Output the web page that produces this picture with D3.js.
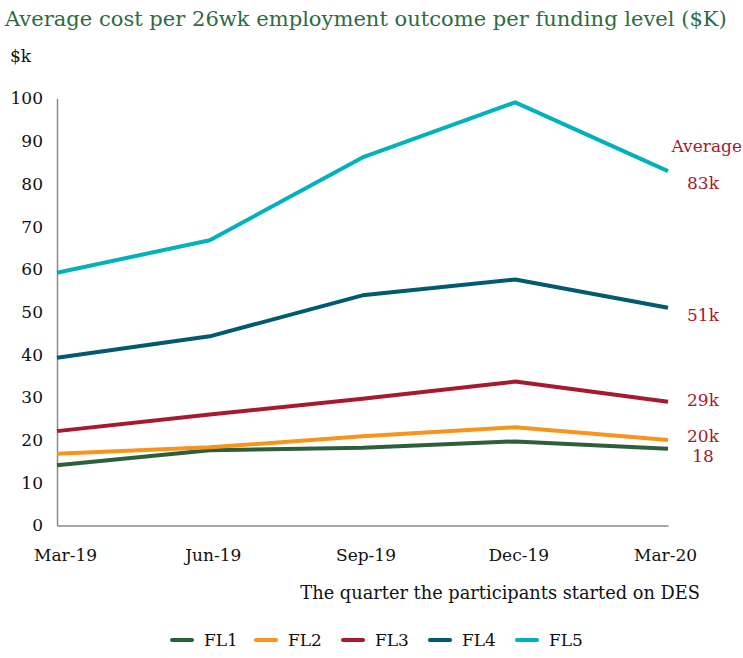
<!DOCTYPE html>
<html>
<head>
<meta charset="utf-8">
<script src="https://cdn.jsdelivr.net/npm/d3@7"></script>
<style>
  html, body { margin: 0; padding: 0; background: #fff; }
  svg { display: block; }
  text { font-family: "DejaVu Serif", "Liberation Serif", serif; }
</style>
</head>
<body>
<svg id="chart" width="743" height="658"></svg>
<script>
// Quarters and average cost per 26-week outcome ($K) for each funding level
const quarters = ["Mar-19", "Jun-19", "Sep-19", "Dec-19", "Mar-20"];
const fl1 = [14.1, 17.6, 18.2, 19.7, 18];
const fl2 = [16.8, 18.3, 20.9, 23, 20];
const fl3 = [22.1, 26, 29.7, 33.7, 29];
const fl4 = [39.3, 44.3, 53.9, 57.6, 51];
const fl5 = [59.2, 66.8, 86.2, 99.1, 83];
const seriesNames = ["FL1", "FL2", "FL3", "FL4", "FL5"];
const endLabels = ["18", "20k", "29k", "51k", "83k"];
const yTicks = [0, 10, 20, 30, 40, 50, 60, 70, 80, 90, 100];

const colors = ["#2d5f3b", "#f7941d", "#a6192e", "#005a70", "#00b2bb"];
const series = [fl1, fl2, fl3, fl4, fl5].map((values, i) => ({
  name: seriesNames[i], values, color: colors[i], label: endLabels[i]
}));

const svg = d3.select("#chart");
const labelRed = "#a6192e";
const serif = "'DejaVu Serif', 'Liberation Serif', serif";

const x = d3.scalePoint().domain(quarters).range([57, 668]);
const y = d3.scaleLinear().domain([0, 100]).range([525.5, 98.5]);

// Title, sized to span the chart width
const title = svg.append("text")
  .attr("x", 5).attr("y", 26)
  .attr("fill", "#2e6b3f")
  .attr("font-family", "'Liberation Serif', serif")
  .attr("font-size", 23)
  .text("Average cost per 26wk employment outcome per funding level ($K)");
{
  const w = title.node().getComputedTextLength();
  title.attr("font-size", 23 * 722 / w);
}

svg.append("text")
  .attr("x", 10).attr("y", 62)
  .attr("font-size", 17).attr("fill", "#111")
  .text("$k");

// Y axis
const yAxis = d3.axisLeft(y).tickValues(yTicks).tickSize(0).tickPadding(14);
const gy = svg.append("g").attr("transform", "translate(57,0)").call(yAxis);
gy.select(".domain").attr("stroke", "#8a8a8a").attr("stroke-width", 1.5);
gy.selectAll("text")
  .attr("font-size", 17).attr("fill", "#111")
  .attr("font-family", serif);

// X axis
const xAxis = d3.axisBottom(x).tickSize(0).tickPadding(23);
const gx = svg.append("g").attr("transform", "translate(0,525.5)").call(xAxis);
gx.select(".domain").attr("stroke", "#8a8a8a").attr("stroke-width", 1.5);
gx.selectAll("text")
  .attr("font-size", 17).attr("fill", "#111")
  .attr("font-family", serif)
  .attr("dx", (d, i) => i === 0 ? 8 : (i === quarters.length - 1 ? -3 : 3));

svg.append("text")
  .attr("x", 700).attr("y", 599)
  .attr("text-anchor", "end")
  .attr("font-size", 17.8).attr("fill", "#111")
  .text("The quarter the participants started on DES");

// Lines
const line = d3.line()
  .x((d, i) => x(quarters[i]))
  .y(d => y(d));

svg.append("g").selectAll("path")
  .data(series)
  .join("path")
  .attr("d", d => line(d.values))
  .attr("fill", "none")
  .attr("stroke", d => d.color)
  .attr("stroke-width", 4)
  .attr("stroke-linejoin", "round");

// End-of-line value labels
svg.append("text")
  .attr("x", 742).attr("y", 152)
  .attr("text-anchor", "end")
  .attr("font-size", 17).attr("fill", labelRed)
  .text("Average");

const labelOffsets = { "FL1": 7, "FL2": -4, "FL3": -2, "FL4": 7, "FL5": 12 };
svg.append("g").selectAll("text")
  .data(series)
  .join("text")
  .attr("x", 703)
  .attr("y", d => y(d.values[d.values.length - 1]) + labelOffsets[d.name])
  .attr("dy", "0.35em")
  .attr("text-anchor", "middle")
  .attr("font-size", 17).attr("fill", labelRed)
  .text(d => d.label);

// Legend
const legendX = [172, 256, 343, 430, 517];
const legend = svg.append("g").selectAll("g")
  .data(series)
  .join("g")
  .attr("transform", (d, i) => `translate(${legendX[i]},640)`);
legend.append("line")
  .attr("x1", 0).attr("x2", 20)
  .attr("y1", 0).attr("y2", 0)
  .attr("stroke", d => d.color)
  .attr("stroke-width", 4)
  .attr("stroke-linecap", "round");
legend.append("text")
  .attr("x", 32).attr("y", 0)
  .attr("dy", "0.35em")
  .attr("font-size", 17).attr("fill", "#111")
  .text(d => d.name);
</script>
</body>
</html>
